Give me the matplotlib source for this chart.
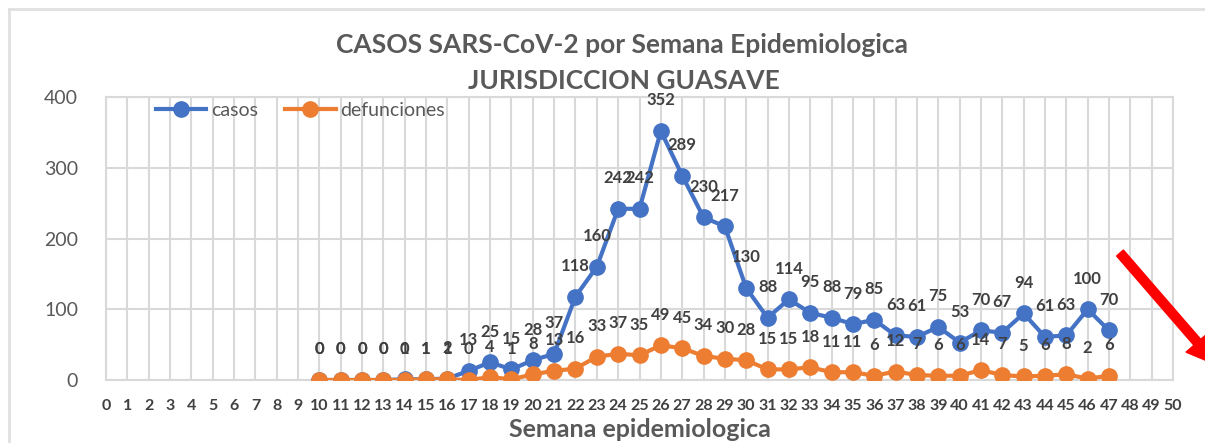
import matplotlib
matplotlib.use("Agg")
import matplotlib.pyplot as plt
from matplotlib.patches import FancyArrow
from matplotlib.lines import Line2D

weeks_axis = list(range(0, 51))
weeks = list(range(10, 48))
casos = [0, 0, 0, 0, 1, 1, 2, 13, 25, 15, 28, 37, 118, 160, 242, 242, 352, 289, 230, 217,
         130, 88, 114, 95, 88, 79, 85, 63, 61, 75, 53, 70, 67, 94, 61, 63, 100, 70]
defunciones = [0, 0, 0, 0, 0, 1, 1, 0, 4, 1, 8, 13, 16, 33, 37, 35, 49, 45, 34, 30,
               28, 15, 15, 18, 11, 11, 6, 12, 7, 6, 6, 14, 7, 5, 6, 8, 2, 6]
yticks = [0, 100, 200, 300, 400]

BLUE = "#4472C4"
ORANGE = "#ED7D31"
TXT = "#595959"
LBL = "#404040"

plt.rcParams['font.family'] = ['Lato', 'DejaVu Sans']

fig = plt.figure(figsize=(12.05, 4.43), dpi=100)
ax = fig.add_axes([106/1205, 1-380/443, (1173-106)/1205, (380-97)/443])

ax.plot(weeks, casos, color=BLUE, lw=3, marker='o', ms=11, zorder=3)
ax.plot(weeks, defunciones, color=ORANGE, lw=3, marker='o', ms=11, zorder=4)

for w, v in zip(weeks, defunciones):
    ax.annotate(str(v), (w, v), xytext=(0, 22), textcoords='offset points',
                ha='center', va='center', fontsize=12, fontweight='bold', color=LBL, zorder=5)
for w, v in zip(weeks, casos):
    ax.annotate(str(v), (w, v), xytext=(0, 22), textcoords='offset points',
                ha='center', va='center', fontsize=12, fontweight='bold', color=LBL, zorder=5)

ax.set_xlim(0, 50)
ax.set_ylim(0, 400)
ax.set_xticks(weeks_axis)
ax.set_xticklabels([str(w) for w in weeks_axis], fontsize=11.5, fontweight='bold', color=LBL)
ax.set_yticks(yticks)
ax.set_yticklabels([str(y) for y in yticks], fontsize=14, color=TXT)
ax.tick_params(axis='x', length=0, pad=14)
ax.tick_params(axis='y', length=0, pad=20)
ax.grid(True, color="#D9D9D9", lw=1.5)
ax.set_axisbelow(True)
for s in ax.spines.values():
    s.set_color("#D9D9D9")
    s.set_linewidth(1.5)

ax.set_xlabel("Semana epidemiologica", fontsize=18, fontweight='bold', color=TXT, labelpad=3)

fig.text(0.516, 1-53/443, "CASOS SARS-CoV-2 por Semana Epidemiologica",
         ha='center', va='baseline', fontsize=19, fontweight='bold', color=TXT)
fig.text(0.518, 1-89/443, "JURISDICCION GUASAVE",
         ha='center', va='baseline', fontsize=19, fontweight='bold', color=TXT)

handles = [Line2D([], [], color=BLUE, lw=3, marker='o', ms=11),
           Line2D([], [], color=ORANGE, lw=3, marker='o', ms=11)]
ax.legend(handles, ["casos", "defunciones"], loc='upper left', bbox_to_anchor=(0.030, 1.045),
          ncol=2, frameon=False, fontsize=14, labelcolor=TXT, handlelength=2.6,
          handletextpad=0.25, columnspacing=1.4)

# chart border
fig.add_artist(Line2D([9/1205, 9/1205], [0, 1-9/443], color="#E0E0E0", lw=2))
fig.add_artist(Line2D([9/1205, 1], [1-9/443, 1-9/443], color="#E0E0E0", lw=2))

# red arrow annotation (in inches, isotropic)
fig.add_artist(FancyArrow(11.20, (443-253)/100, 0.97, -1.12,
                          width=0.09, head_width=0.30, head_length=0.30,
                          color="red", length_includes_head=True,
                          transform=fig.dpi_scale_trans))

fig.savefig("out.png", dpi=100)
